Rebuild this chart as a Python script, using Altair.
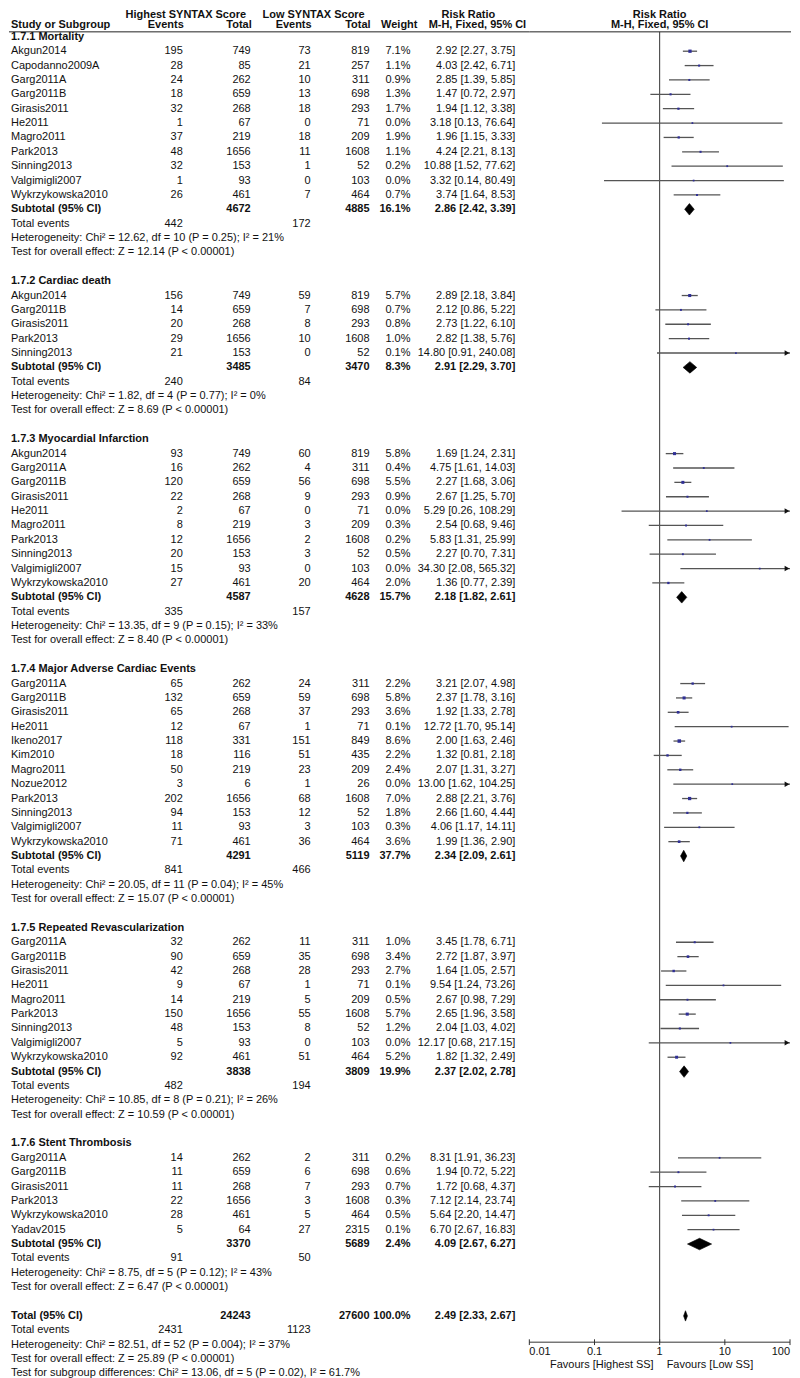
import altair as alt
import pandas as pd

FONT = "Liberation Sans"
FS = 11

# ---------------- data ----------------
subgroup_titles = ["1.7.1 Mortality", "1.7.2 Cardiac death", "1.7.3 Myocardial Infarction",
                   "1.7.4 Major Adverse Cardiac Events", "1.7.5 Repeated Revascularization",
                   "1.7.6 Stent Thrombosis"]
subgroup_sizes = [11, 5, 10, 12, 9, 6]

study_names = [
    "Akgun2014", "Capodanno2009A", "Garg2011A", "Garg2011B", "Girasis2011", "He2011", "Magro2011",
    "Park2013", "Sinning2013", "Valgimigli2007", "Wykrzykowska2010",
    "Akgun2014", "Garg2011B", "Girasis2011", "Park2013", "Sinning2013",
    "Akgun2014", "Garg2011A", "Garg2011B", "Girasis2011", "He2011", "Magro2011", "Park2013",
    "Sinning2013", "Valgimigli2007", "Wykrzykowska2010",
    "Garg2011A", "Garg2011B", "Girasis2011", "He2011", "Ikeno2017", "Kim2010", "Magro2011",
    "Nozue2012", "Park2013", "Sinning2013", "Valgimigli2007", "Wykrzykowska2010",
    "Garg2011A", "Garg2011B", "Girasis2011", "He2011", "Magro2011", "Park2013", "Sinning2013",
    "Valgimigli2007", "Wykrzykowska2010",
    "Garg2011A", "Garg2011B", "Girasis2011", "Park2013", "Wykrzykowska2010", "Yadav2015",
]
events_high = [195, 28, 24, 18, 32, 1, 37, 48, 32, 1, 26,
               156, 14, 20, 29, 21,
               93, 16, 120, 22, 2, 8, 12, 20, 15, 27,
               65, 132, 65, 12, 118, 18, 50, 3, 202, 94, 11, 71,
               32, 90, 42, 9, 14, 150, 48, 5, 92,
               14, 11, 11, 22, 28, 5]
total_high = [749, 85, 262, 659, 268, 67, 219, 1656, 153, 93, 461,
              749, 659, 268, 1656, 153,
              749, 262, 659, 268, 67, 219, 1656, 153, 93, 461,
              262, 659, 268, 67, 331, 116, 219, 6, 1656, 153, 93, 461,
              262, 659, 268, 67, 219, 1656, 153, 93, 461,
              262, 659, 268, 1656, 461, 64]
events_low = [73, 21, 10, 13, 18, 0, 18, 11, 1, 0, 7,
              59, 7, 8, 10, 0,
              60, 4, 56, 9, 0, 3, 2, 3, 0, 20,
              24, 59, 37, 1, 151, 51, 23, 1, 68, 12, 3, 36,
              11, 35, 28, 1, 5, 55, 8, 0, 51,
              2, 6, 7, 3, 5, 27]
total_low = [819, 257, 311, 698, 293, 71, 209, 1608, 52, 103, 464,
             819, 698, 293, 1608, 52,
             819, 311, 698, 293, 71, 209, 1608, 52, 103, 464,
             311, 698, 293, 71, 849, 435, 209, 26, 1608, 52, 103, 464,
             311, 698, 293, 71, 209, 1608, 52, 103, 464,
             311, 698, 293, 1608, 464, 2315]
weight_pct = [7.1, 1.1, 0.9, 1.3, 1.7, 0.0, 1.9, 1.1, 0.2, 0.0, 0.7,
              5.7, 0.7, 0.8, 1.0, 0.1,
              5.8, 0.4, 5.5, 0.9, 0.0, 0.3, 0.2, 0.5, 0.0, 2.0,
              2.2, 5.8, 3.6, 0.1, 8.6, 2.2, 2.4, 0.0, 7.0, 1.8, 0.3, 3.6,
              1.0, 3.4, 2.7, 0.1, 0.5, 5.7, 1.2, 0.0, 5.2,
              0.2, 0.6, 0.7, 0.3, 0.5, 0.1]
rr_est = [2.92, 4.03, 2.85, 1.47, 1.94, 3.18, 1.96, 4.24, 10.88, 3.32, 3.74,
          2.89, 2.12, 2.73, 2.82, 14.80,
          1.69, 4.75, 2.27, 2.67, 5.29, 2.54, 5.83, 2.27, 34.30, 1.36,
          3.21, 2.37, 1.92, 12.72, 2.00, 1.32, 2.07, 13.00, 2.88, 2.66, 4.06, 1.99,
          3.45, 2.72, 1.64, 9.54, 2.67, 2.65, 2.04, 12.17, 1.82,
          8.31, 1.94, 1.72, 7.12, 5.64, 6.70]
rr_lo = [2.27, 2.42, 1.39, 0.72, 1.12, 0.13, 1.15, 2.21, 1.52, 0.14, 1.64,
         2.18, 0.86, 1.22, 1.38, 0.91,
         1.24, 1.61, 1.68, 1.25, 0.26, 0.68, 1.31, 0.70, 2.08, 0.77,
         2.07, 1.78, 1.33, 1.70, 1.63, 0.81, 1.31, 1.62, 2.21, 1.60, 1.17, 1.36,
         1.78, 1.87, 1.05, 1.24, 0.98, 1.96, 1.03, 0.68, 1.32,
         1.91, 0.72, 0.68, 2.14, 2.20, 2.67]
rr_hi = [3.75, 6.71, 5.85, 2.97, 3.38, 76.64, 3.33, 8.13, 77.62, 80.49, 8.53,
         3.84, 5.22, 6.10, 5.76, 240.08,
         2.31, 14.03, 3.06, 5.70, 108.29, 9.46, 25.99, 7.31, 565.32, 2.39,
         4.98, 3.16, 2.78, 95.14, 2.46, 2.18, 3.27, 104.25, 3.76, 4.44, 14.11, 2.90,
         6.71, 3.97, 2.57, 73.26, 7.29, 3.58, 4.02, 217.15, 2.49,
         36.23, 5.22, 4.37, 23.74, 14.47, 16.83]

sub_total_high = [4672, 3485, 4587, 4291, 3838, 3370]
sub_total_low = [4885, 3470, 4628, 5119, 3809, 5689]
sub_weight = [16.1, 8.3, 15.7, 37.7, 19.9, 2.4]
sub_est = [2.86, 2.91, 2.18, 2.34, 2.37, 4.09]
sub_lo = [2.42, 2.29, 1.82, 2.09, 2.02, 2.67]
sub_hi = [3.39, 3.70, 2.61, 2.61, 2.78, 6.27]
sub_events_high = [442, 240, 335, 841, 482, 91]
sub_events_low = [172, 84, 157, 466, 194, 50]
sub_het = [
    "Heterogeneity: Chi² = 12.62, df = 10 (P = 0.25); I² = 21%",
    "Heterogeneity: Chi² = 1.82, df = 4 (P = 0.77); I² = 0%",
    "Heterogeneity: Chi² = 13.35, df = 9 (P = 0.15); I² = 33%",
    "Heterogeneity: Chi² = 20.05, df = 11 (P = 0.04); I² = 45%",
    "Heterogeneity: Chi² = 10.85, df = 8 (P = 0.21); I² = 26%",
    "Heterogeneity: Chi² = 8.75, df = 5 (P = 0.12); I² = 43%",
]
sub_z = [
    "Test for overall effect: Z = 12.14 (P < 0.00001)",
    "Test for overall effect: Z = 8.69 (P < 0.00001)",
    "Test for overall effect: Z = 8.40 (P < 0.00001)",
    "Test for overall effect: Z = 15.07 (P < 0.00001)",
    "Test for overall effect: Z = 10.59 (P < 0.00001)",
    "Test for overall effect: Z = 6.47 (P < 0.00001)",
]

overall_total = [24243, 27600]
overall_weight = 100.0
overall_rr = [2.49, 2.33, 2.67]
overall_events = [2431, 1123]
overall_lines = [
    "Heterogeneity: Chi² = 82.51, df = 52 (P = 0.004); I² = 37%",
    "Test for overall effect: Z = 25.89 (P < 0.00001)",
    "Test for subgroup differences: Chi² = 13.06, df = 5 (P = 0.02), I² = 61.7%",
]

axis_ticks = [0.01, 0.1, 1, 10, 100]
axis_tick_labels = ["0.01", "0.1", "1", "10", "100"]
favours_labels = ["Favours [Highest SS]", "Favours [Low SS]"]

# ---------------- layout ----------------
W_LEFT = 521
W_RIGHT = 261
H = 1370
ROW0 = 35.0
ROW_PX = 14.39
PAGE_TOP = 8


def rpos(page_y):
    return (page_y - ROW0) / ROW_PX


top_r = rpos(PAGE_TOP)
bot_r = top_r + H / ROW_PX
R_HEAD1 = rpos(13.6)
R_HEAD2 = rpos(23)
R_LINE = rpos(30)
R_AXIS = rpos(1342)
R_TICKLAB = rpos(1352)
R_FAV = rpos(1365)

COLX = {"study": 10, "ev1": 182, "tot1": 250, "ev2": 310, "tot2": 369, "w": 410, "rr": 515}

ys = alt.Scale(domain=[top_r, bot_r], reverse=True, zero=False, nice=False)
xs_left = alt.Scale(domain=[8, 8 + W_LEFT], zero=False, nice=False)
xs_right = alt.Scale(type="log", domain=[0.01, 100], nice=False)

texts = []  # r, x, t, align, bold
forest = []
diamonds = []


def add(r, x, t, align="right", bold=False):
    texts.append({"r": r, "x": x, "t": str(t), "align": align, "bold": bold})


def rrtxt(e, l, h):
    return f"{e:.2f} [{l:.2f}, {h:.2f}]"


# header
add(R_HEAD1, 185, "Highest SYNTAX Score", "center", True)
add(R_HEAD1, 313, "Low SYNTAX Score", "center", True)
add(R_HEAD1, 468, "Risk Ratio", "center", True)
add(R_HEAD2, COLX["study"], "Study or Subgroup", "left", True)
add(R_HEAD2, COLX["ev1"] + 1, "Events", "right", True)
add(R_HEAD2, COLX["tot1"] + 1, "Total", "right", True)
add(R_HEAD2, COLX["ev2"] + 1, "Events", "right", True)
add(R_HEAD2, COLX["tot2"] + 1, "Total", "right", True)
add(R_HEAD2, 417, "Weight", "right", True)
add(R_HEAD2, 477, "M-H, Fixed, 95% CI", "center", True)

r = 0
idx = 0
for g, title in enumerate(subgroup_titles):
    add(r, COLX["study"], title, "left", True)
    r += 1
    for _ in range(subgroup_sizes[g]):
        i = idx
        add(r, COLX["study"], study_names[i], "left")
        add(r, COLX["ev1"], events_high[i])
        add(r, COLX["tot1"], total_high[i])
        add(r, COLX["ev2"], events_low[i])
        add(r, COLX["tot2"], total_low[i])
        add(r, COLX["w"], f"{weight_pct[i]:.1f}%")
        add(r, COLX["rr"], rrtxt(rr_est[i], rr_lo[i], rr_hi[i]))
        forest.append({"r": r, "est": rr_est[i], "lo": rr_lo[i],
                       "hi": min(rr_hi[i], 100), "arrow": rr_hi[i] > 100,
                       "sz": 3 + 1.1 * weight_pct[i]})
        idx += 1
        r += 1
    add(r, COLX["study"], "Subtotal (95% CI)", "left", True)
    add(r, COLX["tot1"], sub_total_high[g], "right", True)
    add(r, COLX["tot2"], sub_total_low[g], "right", True)
    add(r, COLX["w"], f"{sub_weight[g]:.1f}%", "right", True)
    add(r, COLX["rr"], rrtxt(sub_est[g], sub_lo[g], sub_hi[g]), "right", True)
    hh = 0.4
    diamonds += [
        {"g": g, "x": sub_lo[g], "y1": r, "y2": r},
        {"g": g, "x": sub_est[g], "y1": r - hh, "y2": r + hh},
        {"g": g, "x": sub_hi[g], "y1": r, "y2": r},
    ]
    r += 1
    add(r, COLX["study"], "Total events", "left")
    add(r, COLX["ev1"], sub_events_high[g])
    add(r, COLX["ev2"], sub_events_low[g])
    r += 1
    add(r, COLX["study"], sub_het[g], "left")
    r += 1
    add(r, COLX["study"], sub_z[g], "left")
    r += 2

# overall
add(r, COLX["study"], "Total (95% CI)", "left", True)
add(r, COLX["tot1"], overall_total[0], "right", True)
add(r, COLX["tot2"], overall_total[1], "right", True)
add(r, COLX["w"], f"{overall_weight:.1f}%", "right", True)
add(r, COLX["rr"], rrtxt(*overall_rr), "right", True)
hh = 0.36
diamonds += [
    {"g": 99, "x": overall_rr[1], "y1": r, "y2": r},
    {"g": 99, "x": overall_rr[0], "y1": r - hh, "y2": r + hh},
    {"g": 99, "x": overall_rr[2], "y1": r, "y2": r},
]
r += 1
add(r, COLX["study"], "Total events", "left")
add(r, COLX["ev1"], overall_events[0])
add(r, COLX["ev2"], overall_events[1])
for line in overall_lines:
    r += 1
    add(r, COLX["study"], line, "left")

tdf = pd.DataFrame(texts)
fdf = pd.DataFrame(forest)
ddf = pd.DataFrame(diamonds)

# ---------------- left panel ----------------
left_layers = []
for align in ["left", "right", "center"]:
    for bold in [False, True]:
        sub = tdf[(tdf["align"] == align) & (tdf["bold"] == bold)]
        if len(sub) == 0:
            continue
        left_layers.append(
            alt.Chart(sub[["r", "x", "t"]]).mark_text(
                align=align, baseline="middle", font=FONT, fontSize=FS,
                fontWeight="bold" if bold else "normal", color="#111"
            ).encode(
                x=alt.X("x:Q", scale=xs_left, axis=None),
                y=alt.Y("r:Q", scale=ys, axis=None),
                text="t:N",
            )
        )
left_rule = alt.Chart(pd.DataFrame({"r": [R_LINE]})).mark_rule(color="#222", strokeWidth=1).encode(
    y=alt.Y("r:Q", scale=ys, axis=None), x=alt.value(0), x2=alt.value(W_LEFT)
)
left = alt.layer(left_rule, *left_layers).properties(width=W_LEFT, height=H)

# ---------------- right panel ----------------
Y = lambda f: alt.Y(f, scale=ys, axis=None)
XR = lambda f: alt.X(f, scale=xs_right, axis=None)

head_df = pd.DataFrame({"x": [1, 1], "r": [R_HEAD1, R_HEAD2], "t": ["Risk Ratio", "M-H, Fixed, 95% CI"]})
head = alt.Chart(head_df).mark_text(align="center", baseline="middle", font=FONT, fontSize=FS,
                                     fontWeight="bold", color="#111").encode(
    x=XR("x:Q"), y=Y("r:Q"), text="t:N")

right_rule = alt.Chart(pd.DataFrame({"r": [R_LINE]})).mark_rule(color="#222", strokeWidth=1).encode(
    y=Y("r:Q"), x=alt.value(0), x2=alt.value(W_RIGHT + 1))

vline = alt.Chart(pd.DataFrame({"x": [1], "r1": [R_LINE], "r2": [R_AXIS]})).mark_rule(
    color="#333", strokeWidth=1).encode(x=XR("x:Q"), y=Y("r1:Q"), y2="r2:Q")

ci = alt.Chart(fdf).mark_rule(color="#555", strokeWidth=1.3).encode(
    x=XR("lo:Q"), x2="hi:Q", y=Y("r:Q"))

boxes = alt.Chart(fdf).mark_square(color="#2f2f95", opacity=1, filled=True).encode(
    x=XR("est:Q"), y=Y("r:Q"), size=alt.Size("sz:Q", scale=None, legend=None))

arrows = alt.Chart(fdf[fdf["arrow"]]).mark_point(
    shape="triangle-right", filled=True, color="#111", size=30, opacity=1, xOffset=-3).encode(
    x=XR("hi:Q"), y=Y("r:Q"))

dia = alt.Chart(ddf).mark_area(color="#000", interpolate="linear", stroke="#000", strokeWidth=0.6,
                               opacity=1).encode(
    x=XR("x:Q"), y=Y("y1:Q"), y2="y2:Q", detail="g:N")

axis_line = alt.Chart(pd.DataFrame({"a": [axis_ticks[0]], "b": [axis_ticks[-1]], "r": [R_AXIS]})).mark_rule(
    color="#333", strokeWidth=1).encode(x=XR("a:Q"), x2="b:Q", y=Y("r:Q"))

tick_df = pd.DataFrame({"x": axis_ticks, "lab": axis_tick_labels,
                        "r1": [R_AXIS - 0.2] * len(axis_ticks), "r2": [R_AXIS + 0.2] * len(axis_ticks),
                        "rl": [R_TICKLAB] * len(axis_ticks)})
ticks = alt.Chart(tick_df).mark_rule(color="#333", strokeWidth=1).encode(
    x=XR("x:Q"), y=Y("r1:Q"), y2="r2:Q")


def tick_text(df, align):
    return alt.Chart(df).mark_text(align=align, baseline="middle", font=FONT, fontSize=FS,
                                   color="#111").encode(x=XR("x:Q"), y=Y("rl:Q"), text="lab:N")


tick_labels = alt.layer(
    tick_text(tick_df.iloc[[0]], "left"),
    tick_text(tick_df.iloc[1:-1], "center"),
    tick_text(tick_df.iloc[[-1]], "right"),
)

fav_left = alt.Chart(pd.DataFrame({"x": [1], "r": [R_FAV], "t": [favours_labels[0]]})).mark_text(
    align="right", baseline="middle", font=FONT, fontSize=FS, color="#111", dx=-6).encode(
    x=XR("x:Q"), y=Y("r:Q"), text="t:N")
fav_right = alt.Chart(pd.DataFrame({"x": [1], "r": [R_FAV], "t": [favours_labels[1]]})).mark_text(
    align="left", baseline="middle", font=FONT, fontSize=FS, color="#111", dx=7).encode(
    x=XR("x:Q"), y=Y("r:Q"), text="t:N")

right = alt.layer(right_rule, head, vline, ci, boxes, arrows, dia, axis_line, ticks, tick_labels,
                  fav_left, fav_right).properties(width=W_RIGHT, height=H)

chart = alt.hconcat(left, right, spacing=0, bounds="flush").properties(padding=0).configure(
    background="white").configure_view(strokeWidth=0)

chart.save("out.html", embed_options={"renderer": "svg", "actions": False})
